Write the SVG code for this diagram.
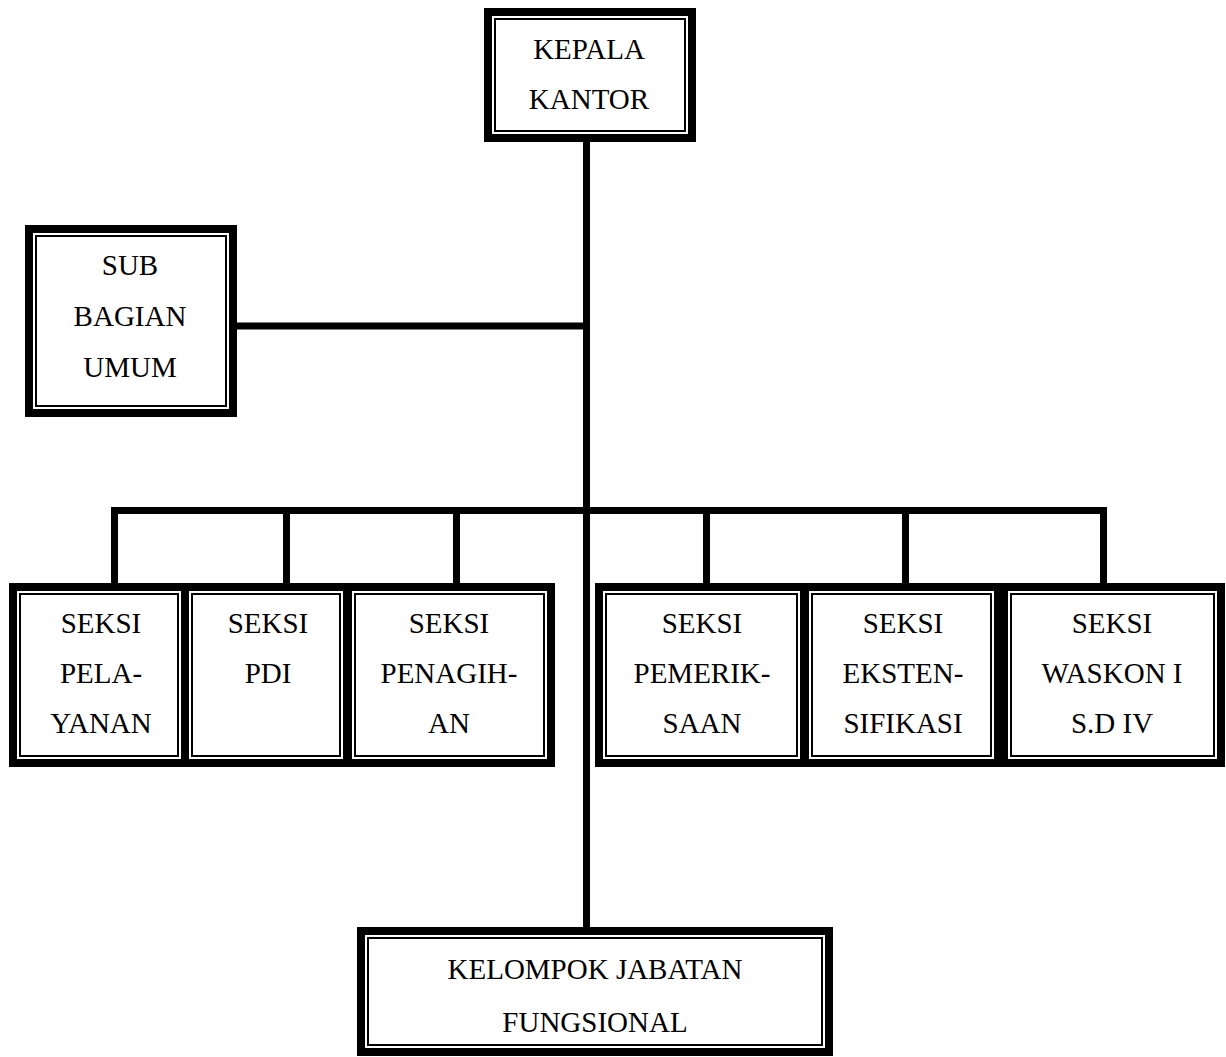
<svg xmlns="http://www.w3.org/2000/svg" width="1226" height="1057" viewBox="0 0 1226 1057">
<style>
.o{fill:#000}
.g{fill:#fff}
.t{fill:#fff;stroke:#000;stroke-width:2}
.c{stroke:#000;stroke-width:7;fill:none;stroke-linecap:butt}
text{font-family:"Liberation Serif","Times New Roman",serif;font-size:29px;fill:#000;text-anchor:middle}
</style>
<rect width="1226" height="1057" fill="#fff"/>
<g id="connectors">
<line class="c" x1="586.5" y1="140" x2="586.5" y2="930"/>
<line class="c" x1="235" y1="326" x2="586.5" y2="326"/>
<line class="c" x1="111" y1="510.5" x2="1107" y2="510.5"/>
<line class="c" x1="114.5" y1="507" x2="114.5" y2="586"/>
<line class="c" x1="286.5" y1="507" x2="286.5" y2="590"/>
<line class="c" x1="456.5" y1="507" x2="456.5" y2="586"/>
<line class="c" x1="706.5" y1="507" x2="706.5" y2="586"/>
<line class="c" x1="905.5" y1="507" x2="905.5" y2="586"/>
<line class="c" x1="1103.5" y1="507" x2="1103.5" y2="586"/>
</g>
<g id="kepala">
<rect class="o" x="484" y="8" width="212" height="134"/>
<rect class="g" x="492" y="16" width="196" height="118"/>
<rect class="t" x="495" y="19" width="190" height="112"/>
<text x="589" y="59">KEPALA</text>
<text x="589" y="109">KANTOR</text>
</g>
<g id="subbagian">
<rect class="o" x="25" y="225" width="212" height="192"/>
<rect class="g" x="33" y="233" width="196" height="176"/>
<rect class="t" x="36" y="236" width="190" height="170"/>
<text x="130" y="275">SUB</text>
<text x="130" y="326">BAGIAN</text>
<text x="130" y="377">UMUM</text>
</g>
<g id="pelayanan">
<rect class="o" x="9" y="583" width="180" height="184"/>
<rect class="g" x="17" y="591" width="164" height="168"/>
<rect class="t" x="20" y="594" width="158" height="162"/>
<text x="101" y="633">SEKSI</text>
<text x="101" y="683">PELA-</text>
<text x="101" y="733">YANAN</text>
</g>
<g id="pdi">
<rect class="o" x="181" y="583" width="170" height="184"/>
<rect class="g" x="189" y="591" width="154" height="168"/>
<rect class="t" x="192" y="594" width="148" height="162"/>
<text x="268" y="633">SEKSI</text>
<text x="268" y="683">PDI</text>
</g>
<g id="penagihan">
<rect class="o" x="344" y="583" width="211" height="184"/>
<rect class="g" x="352" y="591" width="195" height="168"/>
<rect class="t" x="355" y="594" width="189" height="162"/>
<text x="449" y="633">SEKSI</text>
<text x="449" y="683">PENAGIH-</text>
<text x="449" y="733">AN</text>
</g>
<g id="pemeriksaan">
<rect class="o" x="595" y="583" width="213" height="184"/>
<rect class="g" x="603" y="591" width="197" height="168"/>
<rect class="t" x="606" y="594" width="191" height="162"/>
<text x="702" y="633">SEKSI</text>
<text x="702" y="683">PEMERIK-</text>
<text x="702" y="733">SAAN</text>
</g>
<g id="ekstensifikasi">
<rect class="o" x="801" y="583" width="201" height="184"/>
<rect class="g" x="809" y="591" width="185" height="168"/>
<rect class="t" x="812" y="594" width="179" height="162"/>
<text x="903" y="633">SEKSI</text>
<text x="903" y="683">EKSTEN-</text>
<text x="903" y="733">SIFIKASI</text>
</g>
<g id="waskon">
<rect class="o" x="1000" y="583" width="225" height="184"/>
<rect class="g" x="1008" y="591" width="209" height="168"/>
<rect class="t" x="1011" y="594" width="203" height="162"/>
<text x="1112" y="633">SEKSI</text>
<text x="1112" y="683">WASKON I</text>
<text x="1112" y="733">S.D IV</text>
</g>
<g id="kelompok">
<rect class="o" x="357" y="927" width="476" height="129"/>
<rect class="g" x="365" y="935" width="460" height="113"/>
<rect class="t" x="368" y="938" width="454" height="107"/>
<text x="595" y="979">KELOMPOK JABATAN</text>
<text x="595" y="1032">FUNGSIONAL</text>
</g>
</svg>
